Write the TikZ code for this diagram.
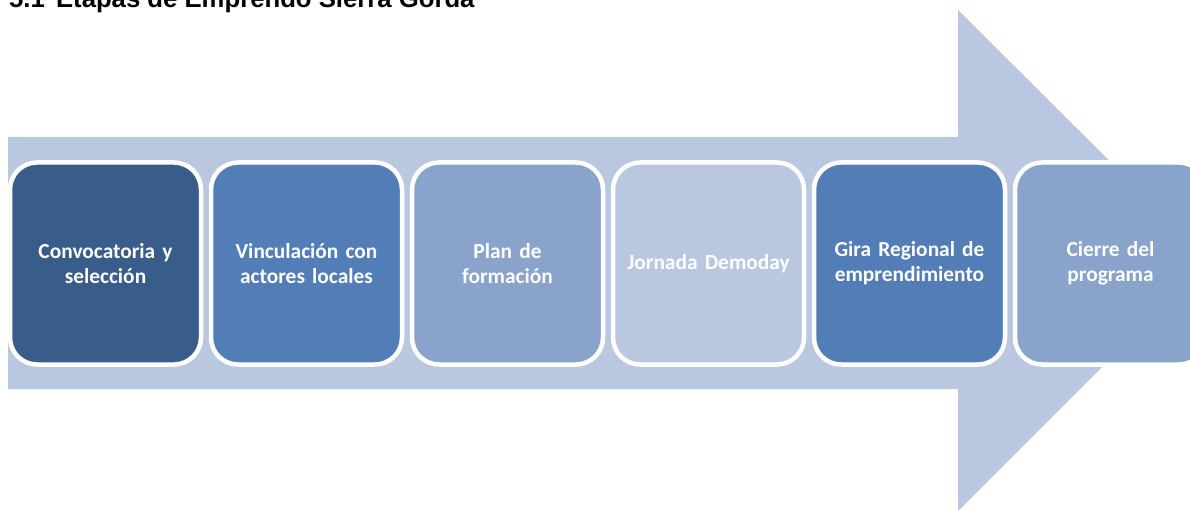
\documentclass[tikz,border=0pt]{standalone}
\usepackage{fontspec}
\setmainfont{Carlito}
\newfontfamily\titlefont{Liberation Sans}
\usetikzlibrary{positioning}

\definecolor{arrowblue}{HTML}{B9C7E0}
\definecolor{stagedark}{HTML}{385D8A}
\definecolor{stagemid}{HTML}{527DB6}
\definecolor{stagesoft}{HTML}{89A3CB}
\definecolor{stagepale}{HTML}{B9C7E0}

\tikzset{
  stage/.style={draw=white, line width=4.5pt, rounded corners=27pt,
    minimum width=191pt, minimum height=202pt, text width=175pt,
    align=center, text=white,
    font=\bfseries\fontsize{21.4}{25}\selectfont}
}

\begin{document}
\begin{tikzpicture}[x=1pt,y=-1pt]
  \def\pitch{201} % distance between the box centres
  \def\midy{263.5} % centre line of the boxes
  \useasboundingbox (0,0) rectangle (1190,510);
  % the big arrow behind the boxes
  \fill[arrowblue] (8,137) -- (958,137) -- (958,10) -- (1209,260)
    -- (958,511) -- (958,389) -- (8,389) -- cycle;
  % title, cut by the top edge
  \node[anchor=base west, inner sep=0pt,
    font=\titlefont\bfseries\fontsize{25.7}{30}\selectfont] (title) at (9,7.5)
    {5.1\hspace{4pt} Etapas de Emprendo Sierra Gorda};
  % the six stages
  \foreach \i/\name/\col/\txt in {
      0/conv/stagedark/{Convocatoria y\\selección},
      1/vinc/stagemid/{Vinculación con\\actores locales},
      2/plan/stagesoft/{Plan de\\formación},
      3/demo/stagepale/{Jornada Demoday},
      4/gira/stagemid/{Gira Regional de\\emprendimiento},
      5/cierre/stagesoft/{Cierre del\\programa}} {
    \node[stage, fill=\col] (\name) at (105.5+\i*\pitch, \midy) {\txt};
  }
\end{tikzpicture}
\end{document}
